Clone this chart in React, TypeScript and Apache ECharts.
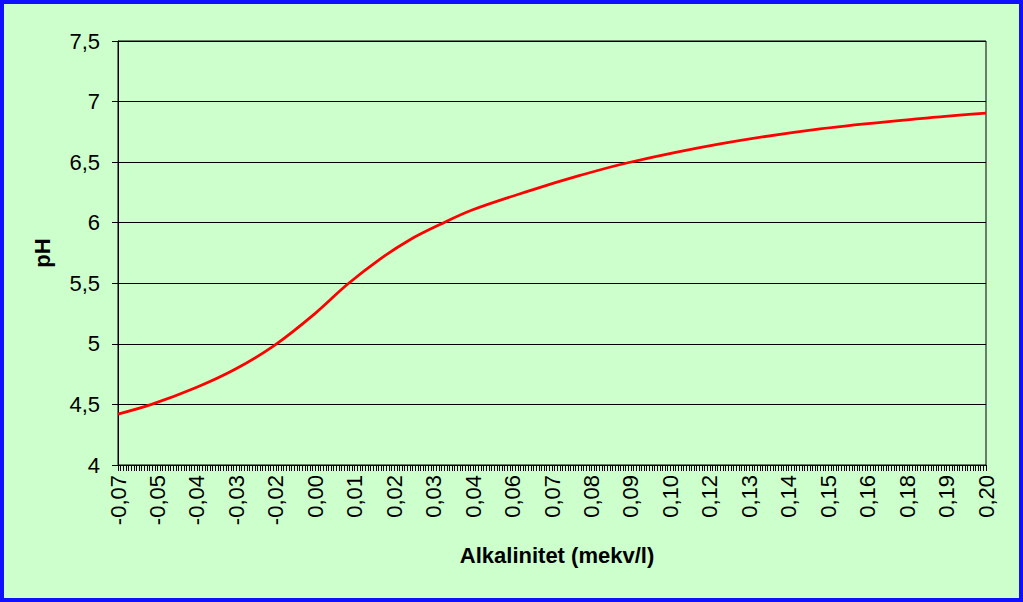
import React, { useEffect, useRef } from "react";
import * as echarts from "echarts";

// Tick labels shown under the category-like x axis (one every 15 small ticks)
const TICK_LABELS = [
  "-0,07", "-0,05", "-0,04", "-0,03", "-0,02", "0,00", "0,01", "0,02", "0,03", "0,04",
  "0,06", "0,07", "0,08", "0,09", "0,10", "0,12", "0,13", "0,14", "0,15", "0,16",
  "0,18", "0,19", "0,20",
];
const TICKS_PER_LABEL = 15;

// Alkalinity (mekv/l) and pH
const ALKALINITY = [
  -0.065, -0.0548, -0.0416, -0.0294, -0.0173, -0.0051, 0.0047, 0.0147, 0.0238, 0.0329,
  0.0427, 0.0603, 0.0755, 0.0901, 0.1181, 0.1485, 0.1789, 0.199,
];
const PH = [
  4.42, 4.5, 4.635, 4.79, 4.99, 5.25, 5.49, 5.7, 5.86, 5.985,
  6.105, 6.265, 6.39, 6.495, 6.65, 6.775, 6.86, 6.905,
];
const X_MIN = -0.065;
const X_MAX = 0.199;

const FONT = "'Liberation Sans', Arial, Helvetica, sans-serif";

export default function App() {
  const ref = useRef<HTMLDivElement>(null);

  useEffect(() => {
    if (!ref.current) return;
    const chart = echarts.init(ref.current, null, { renderer: "svg" });
    const tickMax = (TICK_LABELS.length - 1) * TICKS_PER_LABEL;
    chart.setOption({
      animation: false,
      backgroundColor: "transparent",
      grid: {
        left: 114,
        right: 33,
        top: 37,
        bottom: 133,
        show: true,
        borderColor: "#000",
        borderWidth: 1,
        backgroundColor: "transparent",
      },
      xAxis: [
        {
          type: "value",
          min: 0,
          max: tickMax,
          interval: TICKS_PER_LABEL,
          axisLine: { show: true, lineStyle: { color: "#000", width: 1 } },
          axisTick: { show: true, length: 6, lineStyle: { color: "#000", width: 1 } },
          minorTick: {
            show: true,
            splitNumber: TICKS_PER_LABEL,
            length: 6,
            lineStyle: { color: "#000", width: 1 },
          },
          splitLine: { show: false },
          axisLabel: {
            rotate: 90,
            margin: 10,
            fontSize: 22,
            fontFamily: FONT,
            color: "#000",
            showMinLabel: true,
            showMaxLabel: true,
            formatter: (v: number) => TICK_LABELS[Math.round(v / TICKS_PER_LABEL)] ?? "",
          },
        },
        {
          type: "value",
          min: X_MIN,
          max: X_MAX,
          show: false,
          splitLine: { show: false },
        },
      ],
      yAxis: {
        type: "value",
        min: 4,
        max: 7.5,
        interval: 0.5,
        axisLine: { show: true, lineStyle: { color: "#000", width: 1 } },
        axisTick: { show: true, length: 6, lineStyle: { color: "#000", width: 1 } },
        splitLine: { show: true, lineStyle: { color: "#000", width: 1 } },
        axisLabel: {
          margin: 18,
          fontSize: 22,
          fontFamily: FONT,
          color: "#000",
          formatter: (v: number) => String(v).replace(".", ","),
        },
      },
      graphic: [
        {
          type: "text",
          x: 553,
          y: 551,
          style: {
            text: "Alkalinitet (mekv/l)",
            fontSize: 22,
            fontWeight: "bold",
            fontFamily: FONT,
            fill: "#000",
            align: "center",
            verticalAlign: "middle",
          },
        },
        {
          type: "text",
          x: 38,
          y: 249,
          rotation: Math.PI / 2,
          style: {
            text: "pH",
            fontSize: 22,
            fontWeight: "bold",
            fontFamily: FONT,
            fill: "#000",
            align: "center",
            verticalAlign: "middle",
          },
        },
      ],
      series: [
        {
          type: "line",
          xAxisIndex: 1,
          data: ALKALINITY.map((x, i) => [x, PH[i]]),
          smooth: 0.35,
          showSymbol: false,
          symbol: "none",
          lineStyle: { color: "#ff0000", width: 2.8 },
          z: 5,
        },
      ],
    });
    return () => chart.dispose();
  }, []);

  return (
    <div
      style={{
        position: "absolute",
        left: 0,
        top: 0,
        width: 1023,
        height: 602,
        boxSizing: "border-box",
        border: "4px solid #1010ff",
        background: "#ccffcc",
      }}
    >
      <div ref={ref} style={{ width: 1015, height: 594 }} />
    </div>
  );
}
